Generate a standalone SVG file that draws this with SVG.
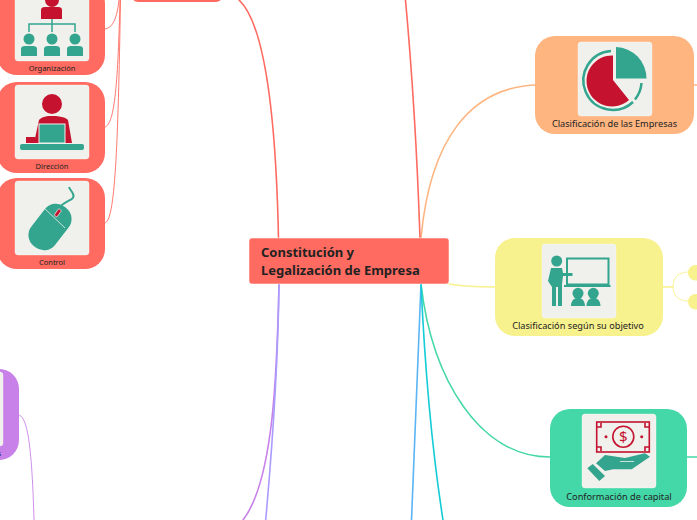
<svg xmlns="http://www.w3.org/2000/svg" width="697" height="520" viewBox="0 0 697 520">
<style>
text{font-family:"Noto Sans","DejaVu Sans",sans-serif;fill:#222}
.lb{font-size:9.200px;text-anchor:middle}
.sm{font-size:7.500px;text-anchor:middle}
.box{fill:#f0f0ec;stroke:#fff;stroke-opacity:.35;stroke-width:1}
.t{fill:#33a58e}
.c{fill:#c4122f}
.cs{fill:none;stroke:#c4122f;stroke-width:1.600}
.ts{fill:none;stroke:#33a58e}
#connectors path{fill:none;stroke-linecap:round}
.thick{stroke-width:1.600}
.thin{stroke-width:.9}
</style>
<g id="connectors">
<path class="thick" stroke="#ff6b60" d="M278.500,238C276,120 266,25 239,0"/>
<path class="thick" stroke="#ffb580" d="M421,238C430,140 470,88 535,85"/>
<path class="thick" stroke="#ff6b60" d="M420,238C417,150 411,60 405.500,0"/>
<path class="thick" stroke="#f7f18e" d="M449,284C465,287 480,287 495,287"/>
<path class="thick" stroke="#44d7a8" d="M421,284C432,380 480,457 550,457"/>
<path class="thick" stroke="#5bb5f5" d="M421,284C418,370 414,450 411.500,520"/>
<path class="thick" stroke="#12ccd6" d="M421,284C425,370 432,450 443,520"/>
<path class="thick" stroke="#c781e8" d="M279,284C277,370 274,480 243,520"/>
<path class="thick" stroke="#a99cff" d="M279,284C278,370 272,450 265.700,520"/>
<path class="thin" stroke="#c781e8" d="M19,415C28,417 32,450 34,520"/>
<path class="thin" stroke="#ff6b60" d="M105,29C113,28 117,18 119,0"/>
<path class="thin" stroke="#ff6b60" d="M105,127C115,125 118,80 120,0"/>
<path class="thin" stroke="#ff6b60" d="M105,223C115,222 118,150 120.500,0"/>
<path class="thick" stroke="#ffb580" d="M694,85L697,85"/>
<path class="thick" stroke="#44d7a8" d="M687,457L697,457"/>
<path class="thick" stroke="#f7f18e" d="M663,287L673,287"/>
<path class="thin" stroke="#f7f18e" d="M688,272C678,272 673,278 673,287C673,295 678,301 688,301"/>
</g>
<g id="node-top"><rect x="132" y="-30" width="90" height="32" rx="6" fill="#ff6b60"/></g>
<g id="node-organizacion">
<rect x="-3" y="-16" width="108" height="91" rx="20" fill="#ff6b60"/>
<rect class="box" x="15" y="-13" width="74" height="74" rx="3"/>
<circle class="c" cx="52" cy="0" r="7"/>
<path class="c" d="M41,10Q41,7 45,7H58Q62,7 62,10V19H41Z"/>
<path class="ts" stroke-width="1.500" d="M52,19V24M29,32V24H75V32M52,24V32"/>
<circle class="t" cx="29" cy="39" r="5.500"/><circle class="t" cx="52" cy="39" r="5.500"/><circle class="t" cx="75" cy="39" r="5.500"/>
<path class="t" d="M21,49Q21,46 25,46H33Q37,46 37,49V56H21ZM44,49Q44,46 48,46H56Q60,46 60,49V56H44ZM67,49Q67,46 71,46H79Q83,46 83,49V56H67Z"/>
<text class="sm" x="52" y="71">Organización</text>
</g>
<g id="node-direccion">
<rect x="-3" y="82" width="108" height="91" rx="20" fill="#ff6b60"/>
<rect class="box" x="15" y="85" width="74" height="74" rx="3"/>
<circle class="c" cx="52" cy="104" r="10"/>
<path class="c" d="M34,143L39,120Q41,117 48,116H56Q66,117 68,120L72,143ZM26,143V137H35V143Z"/>
<rect class="t" x="39" y="124" width="26" height="19" stroke="#f0f0ec" stroke-width="1"/>
<rect class="t" x="20" y="144" width="64" height="6" rx="2"/>
<text class="sm" x="52" y="169">Dirección</text>
</g>
<g id="node-control">
<rect x="-3" y="178" width="108" height="91" rx="20" fill="#ff6b60"/>
<rect class="box" x="15" y="181" width="74" height="74" rx="3"/>
<rect class="t" x="35" y="202" width="30" height="50" rx="14" transform="rotate(38 50 227)"/>
<path d="M43,207L65,228" stroke="#f0f0ec" stroke-width=".8" fill="none"/>
<path class="ts" stroke-width="2" d="M60,207C66,200 76,200 73,194C72,191 70,190 69,187"/>
<rect class="c" x="56" y="209" width="3.500" height="8" rx="1" stroke="#f0f0ec" stroke-width=".7" transform="rotate(35 58 213)"/>
<text class="sm" x="52" y="265">Control</text>
</g>
<g id="node-purple">
<rect x="-89" y="369" width="108" height="91" rx="20" fill="#c781e8"/>
<rect class="box" x="-71" y="372" width="74" height="74" rx="3"/>
<text x="1" y="456" font-size="7.500" text-anchor="end">s</text>
</g>
<g id="node-central">
<rect x="249" y="238" width="200" height="46" rx="3" fill="#ff6b60" stroke="#fff" stroke-opacity=".5"/>
<text x="261" y="257" font-size="13" font-weight="700" fill="#111">Constitución y</text>
<text x="261" y="275" font-size="13" font-weight="700" fill="#111">Legalización de Empresa</text>
</g>
<g id="node-clasificacion">
<rect x="535" y="36" width="159" height="98" rx="20" fill="#ffb580"/>
<rect class="box" x="578" y="42" width="74" height="74" rx="3"/>
<path class="c" d="M613,80V55.500A25.500,25.500 0 1 0 629,100Z"/>
<path class="t" d="M616,78.500V47A31.500,31.500 0 0 1 646.500,78.500Z"/>
<path class="ts" stroke-width="2.500" d="M611,51A29.500,29.500 0 1 0 633,102M635,99.500A29.500,29.500 0 0 0 641.500,83"/>
<text class="lb" x="614.500" y="127">Clasificación de las Empresas</text>
</g>
<g id="node-objetivo">
<rect x="495" y="238" width="168" height="98" rx="20" fill="#f7f18e"/>
<rect class="box" x="542" y="244" width="74" height="74" rx="3"/>
<circle class="t" cx="556.700" cy="261" r="5.500"/>
<path class="t" d="M551,268H562L563,273H572.500V276H563L562,284V306H558V287H556V306H552V287L548,281Z"/>
<rect x="567" y="258.500" width="41.500" height="26" fill="none" stroke="#33a58e" stroke-width="2"/>
<rect class="t" x="564" y="285" width="46.500" height="2"/>
<circle class="t" cx="578" cy="293.300" r="5.500"/><circle class="t" cx="593.300" cy="293.300" r="5.500"/>
<path class="t" d="M571,306C571,295 585,295 585,306ZM586.500,306C586.500,295 600.500,295 600.500,306Z"/>
<text class="lb" x="578" y="329">Clasificación según su objetivo</text>
</g>
<g id="node-capital">
<rect x="550" y="409" width="137" height="98" rx="20" fill="#44d7a8"/>
<rect class="box" x="582" y="414" width="74" height="74" rx="3"/>
<rect x="596.700" y="422" width="52.600" height="30" class="cs"/>
<path class="cs" d="M597,427H601V423M649,427H645V423M597,447H601V451M649,447H645V451"/>
<circle cx="623.300" cy="436.700" r="10.500" class="cs"/>
<text x="623.300" y="442" font-size="15" text-anchor="middle" style="fill:#c4122f">$</text>
<circle class="c" cx="606" cy="436.700" r="1.500"/><circle class="c" cx="641.700" cy="436.700" r="1.500"/>
<path class="t" d="M596,463.300L605,455L625,458L645,453.300L650,456.700L631.700,469.300H613L605,471Z"/>
<path class="t" d="M587.300,468.300L592.700,464L605,476L599.300,481Z"/>
<path d="M620,461.500H634" stroke="#f0f0ec" stroke-width=".8" fill="none"/>
<text class="lb" x="619" y="499.500">Conformación de capital</text>
</g>
<g id="node-yellow-children">
<rect x="688" y="265" width="30" height="15.500" rx="7.700" fill="#f7f18e"/>
<rect x="688" y="294" width="30" height="15.500" rx="7.700" fill="#f7f18e"/>
</g>
</svg>
